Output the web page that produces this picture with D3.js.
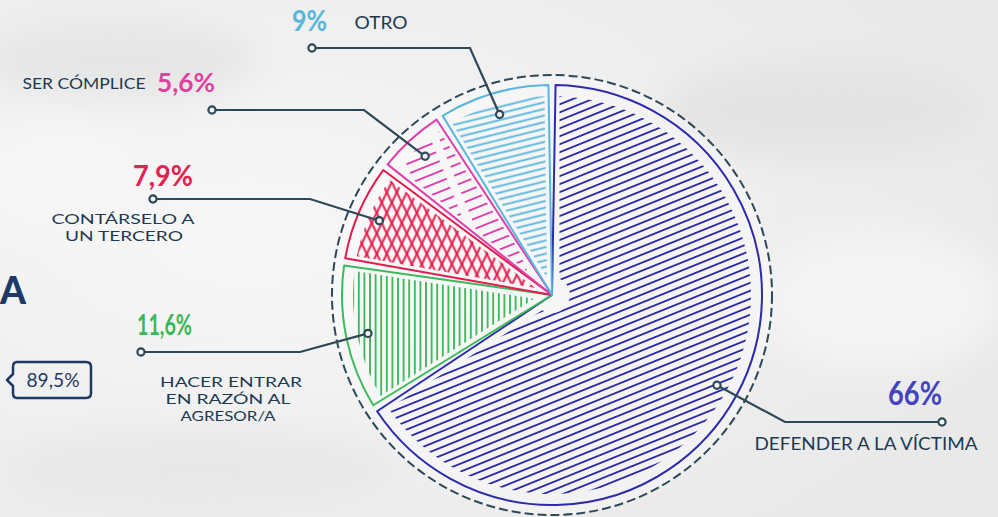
<!DOCTYPE html>
<html lang="es">
<head>
<meta charset="UTF-8">
<title>pie-chart</title>
<script src="https://cdn.jsdelivr.net/npm/d3@7"></script>
<style>
  body { margin: 0; background: #efefef; }
  svg { display: block; }
  text { font-family: Lato, "Open Sans", sans-serif; }
</style>
</head>
<body>
<script>
// data
const categories = ['DEFENDER A LA VÍCTIMA', 'HACER ENTRAR EN RAZÓN AL AGRESOR/A', 'CONTÁRSELO A UN TERCERO', 'SER CÓMPLICE', 'OTRO'];
const values = [66, 11.6, 7.9, 5.6, 9];
const valueLabels = ['66%', '11,6%', '7,9%', '5,6%', '9%'];
const sideNote = ['A', '89,5%'];

const width = 998, height = 517;
const cx = 552, cy = 295;
const ink = '#1d3a52', lineInk = '#2d4858';
const colors = d3.scaleOrdinal()
  .domain(categories)
  .range(['#2b2bab', '#3dbb5c', '#e31c4c', '#e03fae', '#56b6de']);
const textColors = d3.scaleOrdinal()
  .domain(categories)
  .range(['#4343c0', '#38b85a', '#e2234f', '#e0409f', '#5ab5db']);

// where each label sits (layout, not data)
const layout = [
  { dot: [942, 422], bend: [785, 422], pct: [942, 405, 32, 54, 'end'],
    lines: [[866, 450, 'DEFENDER A LA VÍCTIMA', 223, 17]] },
  { dot: [141, 352], bend: [300, 352], pct: [137, 335, 28, 55, 'start'],
    lines: [[231, 387, 'HACER ENTRAR', 142, 14], [228, 404, 'EN RAZÓN AL', 125, 14], [228, 421, 'AGRESOR/A', 95, 14]] },
  { dot: [153, 199], bend: [310, 199], pct: [133, 186, 29, 60, 'start'],
    lines: [[123, 224, 'CONTÁRSELO A', 143, 14], [124, 241, 'UN TERCERO', 118, 14]] },
  { dot: [212, 110], bend: [364, 110], pct: [157, 92, 27, 58, 'start'],
    lines: [[84, 89, 'SER CÓMPLICE', 123, 16]] },
  { dot: [312, 48], bend: [470, 48], pct: [292, 31, 28, 35, 'start'],
    lines: [[381, 29, 'OTRO', 53, 17]] }
];

const svg = d3.select('body').append('svg')
  .attr('width', width)
  .attr('height', height);

// paper background
const defs = svg.append('defs');
const bg = defs.append('radialGradient').attr('id', 'paper')
  .attr('cx', '25%').attr('cy', '45%').attr('r', '80%');
bg.append('stop').attr('offset', '0%').attr('stop-color', '#f7f7f7');
bg.append('stop').attr('offset', '100%').attr('stop-color', '#e9e9e9');
svg.append('rect').attr('width', width).attr('height', height).attr('fill', 'url(#paper)');

defs.append('filter').attr('id', 'soft')
  .append('feGaussianBlur').attr('stdDeviation', 18);
const blotches = [[120, 60, 140, 40, '#e6e6e6'], [820, 110, 160, 50, '#e4e4e4'], [880, 300, 120, 70, '#f4f4f4'],
  [200, 470, 200, 40, '#e8e8e8'], [60, 180, 90, 60, '#f6f6f6']];
svg.append('g').attr('filter', 'url(#soft)')
  .selectAll('ellipse').data(blotches).join('ellipse')
  .attr('cx', d => d[0]).attr('cy', d => d[1])
  .attr('rx', d => d[2]).attr('ry', d => d[3])
  .attr('fill', d => d[4]);

// hatch patterns
function hatch(id, color, angle, gap, dash) {
  const p = defs.append('pattern').attr('id', id)
    .attr('patternUnits', 'userSpaceOnUse')
    .attr('width', 40).attr('height', gap)
    .attr('patternTransform', 'rotate(' + angle + ')');
  p.append('line')
    .attr('x1', 0).attr('x2', 40)
    .attr('y1', gap / 2).attr('y2', gap / 2)
    .attr('stroke', color).attr('stroke-width', 2)
    .attr('stroke-dasharray', dash || null);
}
hatch('h0', colors(categories[0]), -22, 7.4);
hatch('h1', colors(categories[1]), 90, 5.6);
hatch('h2a', colors(categories[2]), 64, 9);
hatch('h2b', colors(categories[2]), -64, 9);
hatch('h3', colors(categories[3]), -22, 9.5, '26 8');
hatch('h4', colors(categories[4]), -14, 6.4);
const fills = [['h0'], ['h1'], ['h2a', 'h2b'], ['h3'], ['h4']];

const pie = d3.pie().sort(null).value(d => d);
const arcs = pie(values);

const outline = d3.arc().innerRadius(0).outerRadius(210).padAngle(0.034);
const inner = d3.arc().innerRadius(18).outerRadius(199).padAngle(0.075);
const anchor = d3.arc().innerRadius(188).outerRadius(188);

const g = svg.append('g').attr('transform', 'translate(' + cx + ',' + cy + ')');

g.append('circle')
  .attr('r', 220)
  .attr('fill', 'rgba(255,255,255,0.35)')
  .attr('stroke', lineInk)
  .attr('stroke-width', 2)
  .attr('stroke-dasharray', '9 4');

arcs.forEach((a, i) => {
  fills[i].forEach(f => {
    g.append('path')
      .attr('d', inner(a))
      .attr('fill', 'url(#' + f + ')');
  });
  g.append('path')
    .attr('d', outline(a))
    .attr('fill', 'none')
    .attr('stroke', colors(categories[i]))
    .attr('stroke-width', 2)
    .attr('stroke-linejoin', 'round');
});

// leaders and labels
const lab = svg.append('g');
arcs.forEach((a, i) => {
  const L = layout[i];
  const c = anchor.centroid(a);
  const end = [cx + c[0], cy + c[1]];
  lab.append('path')
    .attr('d', d3.line()([L.dot, L.bend, end]))
    .attr('fill', 'none')
    .attr('stroke', lineInk)
    .attr('stroke-width', 2.2);
  [L.dot, end].forEach(p => {
    lab.append('circle')
      .attr('cx', p[0]).attr('cy', p[1]).attr('r', 3.6)
      .attr('fill', '#f4f4f4')
      .attr('stroke', lineInk)
      .attr('stroke-width', 2.2);
  });
  lab.append('text')
    .attr('x', L.pct[0]).attr('y', L.pct[1])
    .attr('text-anchor', L.pct[4])
    .attr('font-size', L.pct[2])
    .attr('font-weight', 700)
    .attr('fill', textColors(categories[i]))
    .attr('textLength', L.pct[3])
    .attr('lengthAdjust', 'spacingAndGlyphs')
    .text(valueLabels[i]);
  L.lines.forEach(t => {
    lab.append('text')
      .attr('x', t[0]).attr('y', t[1])
      .attr('text-anchor', 'middle')
      .attr('font-size', t[4])
      .attr('fill', ink)
      .attr('textLength', t[3])
      .attr('lengthAdjust', 'spacingAndGlyphs')
      .text(t[2]);
  });
});

// cut-off side note on the left
svg.append('text')
  .attr('x', 0).attr('y', 304)
  .attr('font-size', 37)
  .attr('font-weight', 900)
  .attr('fill', '#1d3a66')
  .text(sideNote[0]);
svg.append('path')
  .attr('d', 'M17,362 H86 Q91,362 91,367 V393 Q91,398 86,398 H17 Q13,398 13,393 V386 L7,380 L13,374 V367 Q13,362 17,362 Z')
  .attr('fill', 'none')
  .attr('stroke', '#1d3a66')
  .attr('stroke-width', 2.5)
  .attr('stroke-linejoin', 'round');
svg.append('text')
  .attr('x', 53).attr('y', 387)
  .attr('text-anchor', 'middle')
  .attr('font-size', 19)
  .attr('fill', '#1d3a66')
  .attr('textLength', 53)
  .attr('lengthAdjust', 'spacingAndGlyphs')
  .text(sideNote[1]);
</script>
</body>
</html>
